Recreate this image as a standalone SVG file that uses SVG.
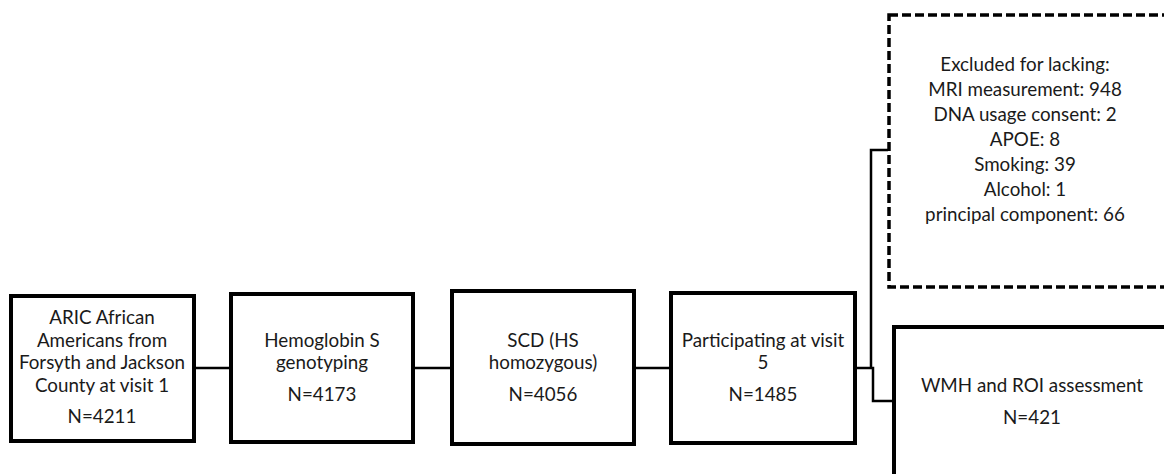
<svg xmlns="http://www.w3.org/2000/svg" width="1164" height="474" viewBox="0 0 1164 474">
<style>
.box{fill:#fff;stroke:#000;stroke-width:4}
.dash{fill:#fff;stroke:#000;stroke-width:3.5;stroke-dasharray:9 4}
.conn{fill:none;stroke:#000;stroke-width:2.5}
text{font-family:Lato,"Open Sans",sans-serif;font-size:18.8px;fill:#1a1a1a;text-anchor:middle}
</style>
<rect width="1164" height="474" fill="#fff"/>
<g id="connectors">
<line class="conn" x1="194" y1="368" x2="231" y2="368"/>
<line class="conn" x1="413" y1="368" x2="452" y2="368"/>
<line class="conn" x1="634" y1="368" x2="671" y2="368"/>
<polyline class="conn" points="855,368 873,368 873,401 892,401"/>
<polyline class="conn" points="871,368 871,150 888,150"/>
</g>
<g id="n1"><rect class="box" x="11" y="296" width="183" height="145"/>
<text x="102" y="324">ARIC African</text><text x="102" y="347">Americans from</text><text x="102" y="369">Forsyth and Jackson</text><text x="102" y="392">County at visit 1</text><text x="102" y="423">N=4211</text></g>
<g id="n2"><rect class="box" x="231" y="294" width="182" height="148"/>
<text x="322" y="347">Hemoglobin S</text><text x="322" y="369">genotyping</text><text x="322" y="401">N=4173</text></g>
<g id="n3"><rect class="box" x="452" y="291" width="182" height="153"/>
<text x="543" y="347">SCD (HS</text><text x="543" y="369">homozygous)</text><text x="543" y="401">N=4056</text></g>
<g id="n4"><rect class="box" x="671" y="293" width="184" height="150"/>
<text x="763" y="347">Participating at visit</text><text x="763" y="369">5</text><text x="763" y="401">N=1485</text></g>
<g id="n5"><rect class="dash" x="889" y="15" width="290" height="272"/>
<text x="1025" y="71">Excluded for lacking:</text><text x="1025" y="96">MRI measurement: 948</text><text x="1025" y="121">DNA usage consent: 2</text><text x="1025" y="146">APOE: 8</text><text x="1025" y="171">Smoking: 39</text><text x="1025" y="196">Alcohol: 1</text><text x="1025" y="221">principal component: 66</text></g>
<g id="n6"><rect class="box" x="894" y="327" width="290" height="170"/>
<text x="1032" y="392">WMH and ROI assessment</text><text x="1032" y="424">N=421</text></g>
</svg>
